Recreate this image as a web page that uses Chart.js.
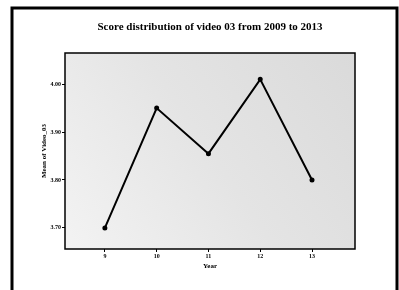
<!DOCTYPE html>
<html>
<head>
<meta charset="utf-8">
<script src="https://cdn.jsdelivr.net/npm/chart.js@4"></script>
<style>
  html, body { margin:0; padding:0; background:#fff; }
  #wrap { position:relative; width:399px; height:290px; }
</style>
</head>
<body>
<div id="wrap"><canvas id="chart"></canvas></div>
<script>
// Dados
const anos = [9, 10, 11, 12, 13];
const medias = [3.70, 3.95, 3.855, 4.01, 3.80];
const ticksX = [9, 10, 11, 12, 13];
const ticksY = [3.70, 3.80, 3.90, 4.00];
const titulo = 'Score distribution of video 03 from 2009 to 2013';

const serif = 'Liberation Serif';

// moldura externa, fundo cinza da área do gráfico e título centrado na área
const molduraPlugin = {
  id: 'moldura',
  beforeDraw(chart) {
    const ctx = chart.ctx, a = chart.chartArea;
    ctx.save();
    ctx.fillStyle = '#fff';
    ctx.fillRect(0, 0, chart.width, chart.height);
    const g = ctx.createLinearGradient(a.left, a.bottom, a.right, a.top);
    g.addColorStop(0, '#f3f3f3');
    g.addColorStop(0.5, '#e4e4e4');
    g.addColorStop(1, '#dadada');
    ctx.fillStyle = g;
    ctx.fillRect(a.left, a.top, a.right - a.left, a.bottom - a.top);
    ctx.strokeStyle = '#000';
    ctx.lineWidth = 3;
    ctx.beginPath();
    ctx.moveTo(12, 295);
    ctx.lineTo(12, 8);
    ctx.lineTo(397, 8);
    ctx.lineTo(397, 295);
    ctx.stroke();
    ctx.fillStyle = '#000';
    ctx.font = 'bold 11px "' + serif + '"';
    ctx.textAlign = 'center';
    ctx.textBaseline = 'middle';
    ctx.fillText(titulo, (a.left + a.right) / 2, 27);
    ctx.restore();
  },
  afterDatasetsDraw(chart) {
    const ctx = chart.ctx, a = chart.chartArea;
    ctx.save();
    ctx.strokeStyle = '#000';
    ctx.lineWidth = 1.5;
    ctx.strokeRect(a.left, a.top, a.right - a.left, a.bottom - a.top);
    ctx.restore();
  }
};

new Chart(document.getElementById('chart'), {
  type: 'line',
  data: {
    datasets: [{
      data: anos.map((a, i) => ({ x: a, y: medias[i] })),
      borderColor: '#000',
      borderWidth: 2,
      backgroundColor: '#000',
      pointRadius: 1.5,
      tension: 0
    }]
  },
  options: {
    responsive: true, maintainAspectRatio: false, animation: false,
    layout: { padding: { left: 40, right: 44, top: 53, bottom: 20 } },
    plugins: {
      legend: { display: false },
      tooltip: { enabled: false },
      title: { display: false }
    },
    scales: {
      x: {
        type: 'linear', min: 8.23, max: 13.83,
        afterBuildTicks: s => { s.ticks = ticksX.map(v => ({ value: v })); },
        afterFit: s => { s.height = 21; },
        grid: { drawOnChartArea: false, drawTicks: true, tickLength: 3, color: '#000' },
        border: { display: false },
        ticks: { color: '#000', font: { family: serif, size: 6, weight: 'bold' }, padding: 1, maxRotation: 0,
                 callback: v => String(v) },
        title: { display: true, text: 'Year', color: '#000', font: { family: serif, size: 7, weight: 'bold' }, padding: { top: 2, bottom: 0 } }
      },
      y: {
        min: 3.656, max: 4.065,
        afterBuildTicks: s => { s.ticks = ticksY.map(v => ({ value: v })); },
        afterFit: s => { s.width = 25; },
        grid: { drawOnChartArea: false, drawTicks: true, tickLength: 3, color: '#000' },
        border: { display: false },
        ticks: { color: '#000', font: { family: serif, size: 6, weight: 'bold' }, padding: 1,
                 callback: v => v.toFixed(2) },
        title: { display: true, text: 'Mean of Video_03', color: '#000', font: { family: serif, size: 7, weight: 'bold' }, padding: { top: 0, bottom: 0 } }
      }
    }
  },
  plugins: [molduraPlugin]
});
</script>
</body>
</html>
